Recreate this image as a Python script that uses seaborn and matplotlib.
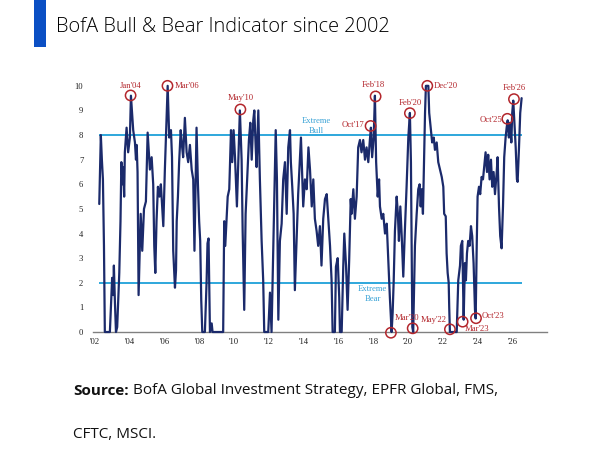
import numpy as np
import pandas as pd
import matplotlib
matplotlib.use("Agg")
import matplotlib.pyplot as plt
from matplotlib.patches import Rectangle
import seaborn as sns

# BofA Bull & Bear indicator (decimal year, level 0-10)
years = [
    2002.25, 2002.34, 2002.40, 2002.46, 2002.52, 2002.57, 2002.86, 2002.99, 2003.05, 2003.09,
    2003.15, 2003.21, 2003.28, 2003.40, 2003.47, 2003.52, 2003.59, 2003.63, 2003.68, 2003.72,
    2003.82, 2003.91, 2004.01, 2004.07, 2004.20, 2004.30, 2004.36, 2004.40, 2004.45, 2004.51,
    2004.63, 2004.72, 2004.82, 2004.93, 2005.03, 2005.16, 2005.26, 2005.35, 2005.41, 2005.47,
    2005.54, 2005.62, 2005.71, 2005.79, 2005.87, 2005.93, 2006.02, 2006.11, 2006.18, 2006.27,
    2006.37, 2006.43, 2006.50, 2006.60, 2006.66, 2006.70, 2006.77, 2006.84, 2006.93, 2007.00,
    2007.07, 2007.17, 2007.27, 2007.36, 2007.46, 2007.56, 2007.65, 2007.72, 2007.84, 2007.92,
    2007.99, 2008.05, 2008.11, 2008.17, 2008.32, 2008.42, 2008.47, 2008.53, 2008.61, 2008.71,
    2008.76, 2009.37, 2009.43, 2009.49, 2009.63, 2009.72, 2009.82, 2009.89, 2009.97, 2010.05,
    2010.16, 2010.24, 2010.33, 2010.43, 2010.49, 2010.58, 2010.66, 2010.75, 2010.85, 2010.93,
    2011.01, 2011.10, 2011.16, 2011.24, 2011.29, 2011.39, 2011.48, 2011.58, 2011.67, 2011.73,
    2011.96, 2012.06, 2012.15, 2012.25, 2012.31, 2012.39, 2012.46, 2012.54, 2012.63, 2012.73,
    2012.82, 2012.92, 2013.02, 2013.11, 2013.21, 2013.26, 2013.34, 2013.42, 2013.49, 2013.68,
    2013.84, 2013.91, 2013.97, 2014.07, 2014.17, 2014.27, 2014.36, 2014.46, 2014.55, 2014.64,
    2014.74, 2014.83, 2014.93, 2015.02, 2015.12, 2015.22, 2015.32, 2015.41, 2015.51, 2015.60,
    2015.66, 2015.79, 2015.85, 2015.95, 2016.04, 2016.08, 2016.18, 2016.27, 2016.33, 2016.43,
    2016.52, 2016.61, 2016.70, 2016.75, 2016.85, 2016.94, 2017.04, 2017.13, 2017.23, 2017.32,
    2017.42, 2017.52, 2017.61, 2017.71, 2017.80, 2017.86, 2017.93, 2018.02, 2018.09, 2018.16,
    2018.25, 2018.33, 2018.38, 2018.48, 2018.57, 2018.67, 2018.77, 2018.86, 2018.95, 2019.05,
    2019.11, 2019.17, 2019.24, 2019.34, 2019.41, 2019.47, 2019.55, 2019.63, 2019.72, 2019.81,
    2019.91, 2020.01, 2020.10, 2020.16, 2020.24, 2020.29, 2020.39, 2020.49, 2020.58, 2020.66,
    2020.72, 2020.78, 2020.85, 2020.91, 2020.97, 2021.02, 2021.16, 2021.21, 2021.31, 2021.38,
    2021.47, 2021.54, 2021.64, 2021.73, 2021.83, 2021.93, 2022.02, 2022.07, 2022.16, 2022.21,
    2022.27, 2022.33, 2022.36, 2022.40, 2022.79, 2022.88, 2022.98, 2023.03, 2023.11, 2023.19,
    2023.26, 2023.32, 2023.38, 2023.45, 2023.53, 2023.61, 2023.68, 2023.76, 2023.84, 2023.88,
    2023.94, 2023.99, 2024.07, 2024.14, 2024.22, 2024.30, 2024.37, 2024.45, 2024.53, 2024.60,
    2024.68, 2024.76, 2024.83, 2024.91, 2024.99, 2025.09, 2025.14, 2025.22, 2025.29, 2025.37,
    2025.45, 2025.52, 2025.60, 2025.66, 2025.72, 2025.79, 2025.85, 2025.93, 2025.98, 2026.04,
    2026.10, 2026.18, 2026.25, 2026.29, 2026.37, 2026.44, 2026.52,
]
values = [
    5.2, 8.0, 7.0, 6.2, 3.5, 0.0, 0.0, 2.2, 1.5, 2.7,
    1.2, 0.0, 0.2, 2.4, 4.5, 6.9, 6.0, 6.7, 5.5, 7.3,
    8.3, 7.3, 7.9, 9.6, 8.2, 7.7, 7.0, 7.6, 6.5, 1.5,
    4.8, 3.3, 5.0, 5.3, 8.1, 6.6, 7.1, 6.0, 3.5, 2.4,
    4.5, 5.9, 5.5, 6.0, 5.0, 4.3, 6.6, 8.5, 10.0, 7.9,
    8.2, 7.1, 3.3, 1.8, 2.5, 4.5, 5.5, 6.9, 8.2, 7.6,
    7.1, 8.7, 7.3, 6.9, 7.6, 6.6, 6.2, 3.3, 8.3, 6.0,
    4.5, 3.7, 1.3, 0.0, 0.0, 2.1, 3.6, 3.8, 0.0, 0.35,
    0.0, 0.0, 4.5, 3.5, 5.5, 5.8, 8.2, 6.9, 8.2, 7.1,
    5.1, 6.9, 9.0, 7.0, 4.1, 0.9, 4.8, 6.2, 7.8, 8.5,
    7.0, 8.6, 9.0, 7.5, 6.7, 9.0, 6.2, 3.7, 2.1, 0.0,
    0.0, 1.6, 0.0, 3.5, 5.8, 8.2, 6.2, 0.5, 3.7, 4.4,
    6.2, 6.9, 4.8, 7.5, 8.2, 6.9, 5.9, 4.8, 1.7, 5.6,
    7.9, 6.4, 5.1, 6.2, 5.8, 7.5, 6.6, 5.1, 6.2, 4.6,
    4.1, 3.5, 4.3, 2.7, 4.6, 5.4, 5.6, 4.6, 3.5, 2.1,
    0.0, 0.0, 2.65, 3.0, 1.4, 0.0, 0.0, 2.65, 4.0, 2.7,
    0.9, 2.9, 5.4, 4.8, 5.8, 4.6, 5.5, 7.5, 7.8, 7.3,
    7.8, 7.0, 7.5, 6.9, 7.8, 8.3, 7.1, 7.9, 9.6, 6.9,
    5.5, 6.2, 5.1, 4.6, 4.8, 4.0, 4.4, 2.9, 1.4, 0.0,
    0.8, 2.1, 4.1, 5.5, 4.8, 3.7, 5.1, 3.9, 2.25, 4.1,
    5.9, 7.9, 8.9, 6.9, 0.2, 0.0, 3.5, 4.8, 5.8, 6.0,
    5.1, 5.8, 4.8, 6.9, 8.9, 10.0, 10.0, 8.9, 8.2, 7.7,
    7.9, 7.4, 7.7, 6.9, 6.6, 6.3, 5.9, 4.8, 4.7, 3.2,
    2.4, 2.0, 1.0, 0.0, 0.0, 2.1, 2.7, 3.5, 3.7, 0.5,
    2.8, 2.1, 3.2, 3.7, 3.5, 4.3, 3.9, 2.8, 0.9, 0.55,
    3.5, 5.5, 5.9, 5.6, 6.3, 6.2, 6.7, 7.3, 6.5, 7.2,
    6.2, 7.0, 5.9, 6.5, 5.6, 6.5, 7.1, 5.1, 3.9, 3.4,
    5.1, 7.1, 7.9, 8.3, 8.6, 7.9, 8.5, 7.7, 8.9, 9.4,
    8.6, 7.5, 6.2, 6.1, 7.5, 8.9, 9.5,
]

# circled extremes
event_labels = ["Jan'04", "Mar'06", "May'10", "Oct'17", "Feb'18", "Feb'20", "Dec'20",
                "Oct'25", "Feb'26", "Jan'19", "Mar'20", "May'22", "Mar'23", "Oct'23"]
event_years = [2004.05, 2006.17, 2010.36, 2017.84, 2018.13, 2020.10, 2021.10,
               2025.70, 2026.08, 2019.01, 2020.26, 2022.40, 2023.13, 2023.90]
event_values = [9.61, 10.0, 9.04, 8.37, 9.57, 8.89, 10.0,
                8.66, 9.46, -0.03, 0.15, 0.11, 0.42, 0.56]

bull_level = 8
bear_level = 2
tick_years = list(range(2002, 2027, 2))

# label placement for each event (pixel offset, alignment)
label_layout = {
    "Jan'04": ((0, 9), "center"), "Mar'06": ((7, 0), "left"), "May'10": ((0, 11), "center"),
    "Oct'17": ((-6, 1), "right"), "Feb'18": ((-2, 11), "center"), "Feb'20": ((0, 10), "center"),
    "Dec'20": ((6, 0), "left"), "Oct'25": ((-5, -1), "right"), "Feb'26": ((0, 11), "center"),
    "Jan'19": ((-5, 6), "right"), "Mar'20": ((-6, 10), "center"), "May'22": ((-3, 9), "right"),
    "Mar'23": ((2, -7), "left"), "Oct'23": ((6, 2), "left"),
}

navy = "#1b2a6b"
cyan = "#2ea7dc"
red = "#b3262c"

sns.set_style("white")
plt.rcParams["font.family"] = ["Liberation Serif", "DejaVu Serif"]

fig = plt.figure(figsize=(6, 4.5), dpi=100)
ax = fig.add_axes([0.155, 0.2622, 0.7567, 0.558])

df = pd.DataFrame({"year": years, "value": values})
sns.lineplot(data=df, x="year", y="value", ax=ax, color=navy, lw=1.6,
             estimator=None, sort=False, zorder=3, clip_on=False)

ax.hlines([bull_level, bear_level], years[0], years[-1], color=cyan, lw=1.4, zorder=2)
ax.text(2014.7, 8.37, "Extreme\nBull", color="#3aa3d6", fontsize=6.2,
        ha="center", va="center", linespacing=1.3)
ax.text(2017.95, 1.54, "Extreme\nBear", color="#3aa3d6", fontsize=6.2,
        ha="center", va="center", linespacing=1.3)

ax.scatter(event_years, event_values, s=55, facecolors="none", edgecolors=red,
           linewidths=1.1, zorder=4, clip_on=False)
for lab, ex, ey in zip(event_labels, event_years, event_values):
    off, ha = label_layout[lab]
    ax.annotate(lab, (ex, ey), xytext=off, textcoords="offset pixels",
                ha=ha, va="center", color=red, fontsize=6.2, zorder=5)

ax.set_xlim(2001.89, 2027.98)
ax.set_ylim(0, 10.2)
ax.set_xticks(tick_years)
ax.set_xticklabels(["'" + str(y)[2:] for y in tick_years])
ax.set_yticks(range(0, 11))
ax.tick_params(axis="both", length=0, labelsize=6.2, colors="#222222")
ax.tick_params(axis="y", pad=7)
ax.tick_params(axis="x", pad=4)
ax.set_xlabel("")
ax.set_ylabel("")
for s in ["top", "right", "left"]:
    ax.spines[s].set_visible(False)
ax.spines["bottom"].set_color("#808080")
ax.spines["bottom"].set_linewidth(1.0)

# header bar and title
fig.add_artist(Rectangle((34 / 600, 1 - 47 / 450), 12 / 600, 47 / 450,
                         transform=fig.transFigure, color="#0b4fc4", lw=0))
sans = ["Open Sans", "DejaVu Sans"]
fig.text(56 / 600, 1 - 27 / 450, "BofA Bull & Bear Indicator since 2002",
         family=sans, fontsize=14.4, weight="light", color="black", va="center", ha="left")

src = fig.text(73 / 600, 1 - 391 / 450, "Source:", family=sans, fontsize=11,
               weight="bold", color="#111111", va="center", ha="left")
ax.annotate("BofA Global Investment Strategy, EPFR Global, FMS,", xy=(1, 0.5),
            xycoords=src, xytext=(3, 0), textcoords="offset points",
            family=sans, fontsize=11, color="#111111", va="center", ha="left")
fig.text(73 / 600, 1 - 434 / 450, "CFTC, MSCI.", family=sans, fontsize=11,
         color="#111111", va="center", ha="left")

fig.savefig("out.png", dpi=100)
